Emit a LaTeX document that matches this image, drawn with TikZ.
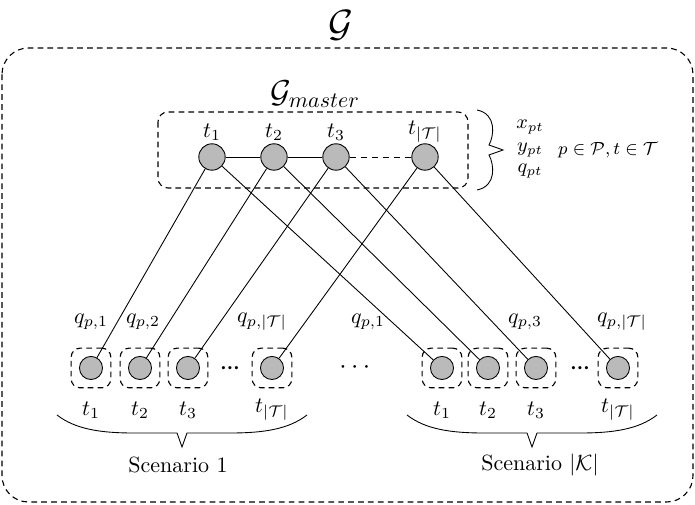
\documentclass[tikz,border=0pt]{standalone}
\usepackage{amsmath,amssymb}
\usepackage{tikz}
\tikzset{
  tnode/.style={circle, draw, fill=black!27, minimum size=12pt, inner sep=0pt},
  subnode/.style={tnode, minimum size=10.5pt},
  slotbox/.style={draw, figdash, rounded corners=4pt, minimum size=18pt, inner sep=0pt},
  figdash/.style={dash pattern=on 2.6pt off 1.9pt, line width=0.5pt},
  linkdash/.style={dash pattern=on 3pt off 2pt},
  dotlabel/.style={font=\tiny, inner sep=0pt},
}

\begin{document}
\begin{tikzpicture}[x=0.4545pt, y=-0.4545pt]
  \useasboundingbox (0,0) rectangle (695,505);
  % whole graph
  \draw[figdash, rounded corners=12pt] (2,48) rectangle (693,502);
  \node[font=\LARGE, inner sep=0pt] (gall) at (341,25) {$\mathcal{G}$};
  % master graph
  \draw[figdash, rounded corners=4.5pt] (158,112) rectangle (468,188);
  \node[font=\Large] (gmaster) at (315,94) {$\mathcal{G}_{master}$};
  \foreach \i/\x/\lab in {1/212/1, 2/274/2, 3/336/3, 4/425/{|\mathcal{T}|}} {
    \node[tnode] (m\i) at (\x,157) {};
    \node (mt\i) at (\x,132) {$t_{\lab}$};
  }
  \draw (m1) -- (m2) -- (m3);
  \draw[linkdash] (m3) -- (m4);
  % master variables
  \draw (477,110) .. controls (497,114) and (494,136) .. (489,145) -- (503,150) -- (489,155)
    .. controls (494,164) and (497,186) .. (477,190);
  \node[font=\small] (xv) at (530,127) {$x_{pt}$};
  \node[font=\small] (yv) at (530,150) {$y_{pt}$};
  \node[font=\small] (qv) at (530,171) {$q_{pt}$};
  \node[font=\footnotesize] (dom) at (608,150) {$p \in \mathcal{P}, t \in \mathcal{T}$};
  % scenario copies
  \foreach \nm/\x/\lab in {a1/91/1, a2/140/2, a3/188/3, a4/272/{|\mathcal{T}|},
                           b1/442/1, b2/488/2, b3/536/3, b4/618/{|\mathcal{T}|}} {
    \node[subnode] (\nm) at (\x,368) {};
    \node[slotbox] (\nm-box) at (\x,368) {};
    \node (\nm-t) at (\x,410) {$t_{\lab}$};
  }
  \foreach \i in {1,...,4} {
    \draw (m\i) -- (a\i);
    \draw (m\i) -- (b\i);
  }
  \foreach \nm/\x/\lab in {qa1/91/1, qa2/143/2, qa4/262/{|\mathcal{T}|},
                           qb1/368/1, qb3/525/3, qb4/622/{|\mathcal{T}|}} {
    \node (\nm) at (\x,322) {$q_{p,\lab}$};
  }
  \node[dotlabel] (adots) at (230,369) {\textbullet\kern-2.2pt\textbullet\kern-2.2pt\textbullet};
  \node[dotlabel] (bdots) at (580,369) {\textbullet\kern-2.2pt\textbullet\kern-2.2pt\textbullet};
  \node[font=\large] (kdots) at (357,368) {$\cdots$};
  % scenario braces
  \foreach \xl/\xm/\xr in {57/182/307, 407/532/657} {
    \draw (\xl,415) .. controls (\xl+18,429) and (\xl+43,433) .. (\xl+76,433)
      -- (\xm-5,433) -- (\xm,447) -- (\xm+5,433) -- (\xr-76,433)
      .. controls (\xr-43,433) and (\xr-18,429) .. (\xr,415);
  }
  \node (sc1) at (178,465) {Scenario 1};
  \node (sck) at (540,465) {Scenario $|\mathcal{K}|$};
\end{tikzpicture}
\end{document}
